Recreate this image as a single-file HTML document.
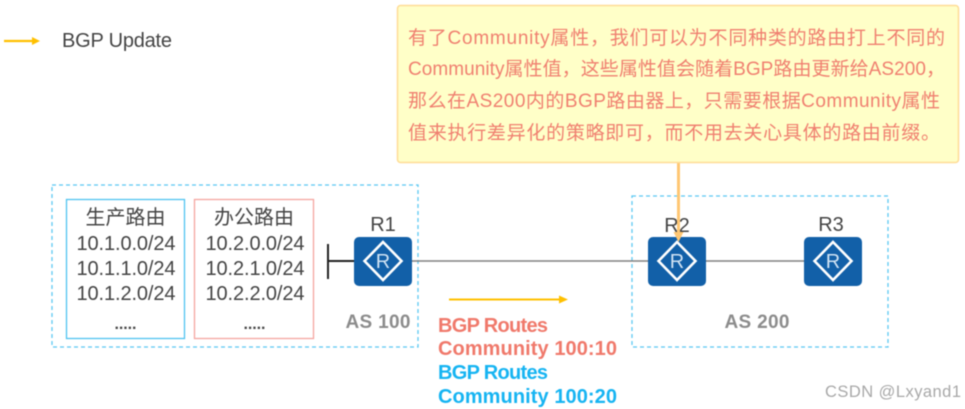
<!DOCTYPE html>
<html lang="zh"><head><meta charset="utf-8"><title>BGP Community</title>
<style>html,body{margin:0;padding:0;background:#fff;width:965px;height:409px;overflow:hidden}svg{display:block;filter:blur(.45px)}text{font-family:"Liberation Sans","Noto Sans CJK SC",sans-serif}</style></head><body>
<svg width="965" height="409" viewBox="0 0 965 409" xmlns="http://www.w3.org/2000/svg">
<defs><g id="r"><rect width="58" height="49" rx="5" fill="#1260a8"/><path d="M29 5 L47.500 24 L29 43 L10.500 24Z" fill="none" stroke="#fff" stroke-width="2.600"/><text x="29" y="31" font-size="20" fill="#cfe2f3" text-anchor="middle">R</text></g></defs>
<!-- legend -->
<path d="M4 41H34" stroke="#ffc000" stroke-width="2.200"/><path d="M32 37 40 41 32 45Z" fill="#ffc000"/>
<text x="62" y="47" font-size="20" fill="#444" textLength="110" lengthAdjust="spacing">BGP Update</text>
<!-- dashed areas -->
<rect x="52" y="185" width="366" height="162" fill="none" stroke="#5cc8f2" stroke-width="1.300" stroke-dasharray="4 3"/>
<rect x="632" y="196" width="256" height="151" fill="none" stroke="#5cc8f2" stroke-width="1.300" stroke-dasharray="4 3"/>
<!-- route boxes -->
<rect x="66.500" y="199.500" width="118" height="139" fill="#fff" stroke="#4fc3f0" stroke-width="1.300"/>
<rect x="194.500" y="199.500" width="119" height="139" fill="#fff" stroke="#f5a5a0" stroke-width="1.300"/>
<g font-size="20" fill="#444" text-anchor="middle">
<text x="125.500" y="224">生产路由</text><text x="126" y="250" textLength="99" lengthAdjust="spacing">10.1.0.0/24</text><text x="126" y="275" textLength="99" lengthAdjust="spacing">10.1.1.0/24</text><text x="126" y="300" textLength="99" lengthAdjust="spacing">10.1.2.0/24</text>
<text x="254" y="224">办公路由</text><text x="255" y="250" textLength="99" lengthAdjust="spacing">10.2.0.0/24</text><text x="255" y="275" textLength="99" lengthAdjust="spacing">10.2.1.0/24</text><text x="255" y="300" textLength="99" lengthAdjust="spacing">10.2.2.0/24</text>
</g>
<g font-size="16" font-weight="700" fill="#444" text-anchor="middle"><text x="125.500" y="329" textLength="22" lengthAdjust="spacing">.....</text><text x="254.500" y="329" textLength="22" lengthAdjust="spacing">.....</text></g>
<!-- links -->
<path d="M328 244V279" stroke="#222" stroke-width="2"/><path d="M328 261H355" stroke="#222" stroke-width="2"/>
<path d="M412 261H649M705 261H804" stroke="#808080" stroke-width="1.600"/>
<!-- routers -->
<use href="#r" x="354" y="237"/><use href="#r" x="648" y="237"/><use href="#r" x="804" y="237"/>
<g font-size="20" fill="#444" text-anchor="middle"><text x="383" y="231">R1</text><text x="677" y="232">R2</text><text x="831" y="231">R3</text></g>
<g font-size="19" font-weight="700" fill="#8c8c8c" text-anchor="middle"><text x="378" y="328" textLength="65" lengthAdjust="spacing">AS 100</text><text x="757" y="328" textLength="65" lengthAdjust="spacing">AS 200</text></g>
<!-- callout -->
<path d="M678.500 163V234" stroke="#ffc773" stroke-width="3"/><path d="M673.500 232H683.500L678.500 242Z" fill="#ffc773"/>
<rect x="397.500" y="5.500" width="561" height="157" rx="3" fill="#ffffc8" stroke="#ffdc96" stroke-width="1.500"/>
<g font-size="19" fill="#f08070">
<text x="408" y="44" textLength="537" lengthAdjust="spacing">有了Community属性，我们可以为不同种类的路由打上不同的</text>
<text x="408" y="75" textLength="537" lengthAdjust="spacing">Community属性值，这些属性值会随着BGP路由更新给AS200，</text>
<text x="408" y="107" textLength="532" lengthAdjust="spacing">那么在AS200内的BGP路由器上，只需要根据Community属性</text>
<text x="408" y="139" textLength="532" lengthAdjust="spacing">值来执行差异化的策略即可，而不用去关心具体的路由前缀。</text>
</g>
<!-- routes -->
<path d="M449 299.500H561" stroke="#ffc000" stroke-width="2"/><path d="M559 295.500 568 299.500 559 303.500Z" fill="#ffc000"/>
<g font-size="20" font-weight="700">
<text x="438" y="332" fill="#f0796b" textLength="110" lengthAdjust="spacing">BGP Routes</text>
<text x="438" y="355" fill="#f0796b" textLength="179" lengthAdjust="spacing">Community 100:10</text>
<text x="438" y="379" fill="#16b4f2" textLength="110" lengthAdjust="spacing">BGP Routes</text>
<text x="438" y="403" fill="#16b4f2" textLength="179" lengthAdjust="spacing">Community 100:20</text>
</g>
<text x="825" y="397" font-size="16.500" fill="#a8a8a8" textLength="136" lengthAdjust="spacing">CSDN @Lxyand1</text>
</svg></body></html>
